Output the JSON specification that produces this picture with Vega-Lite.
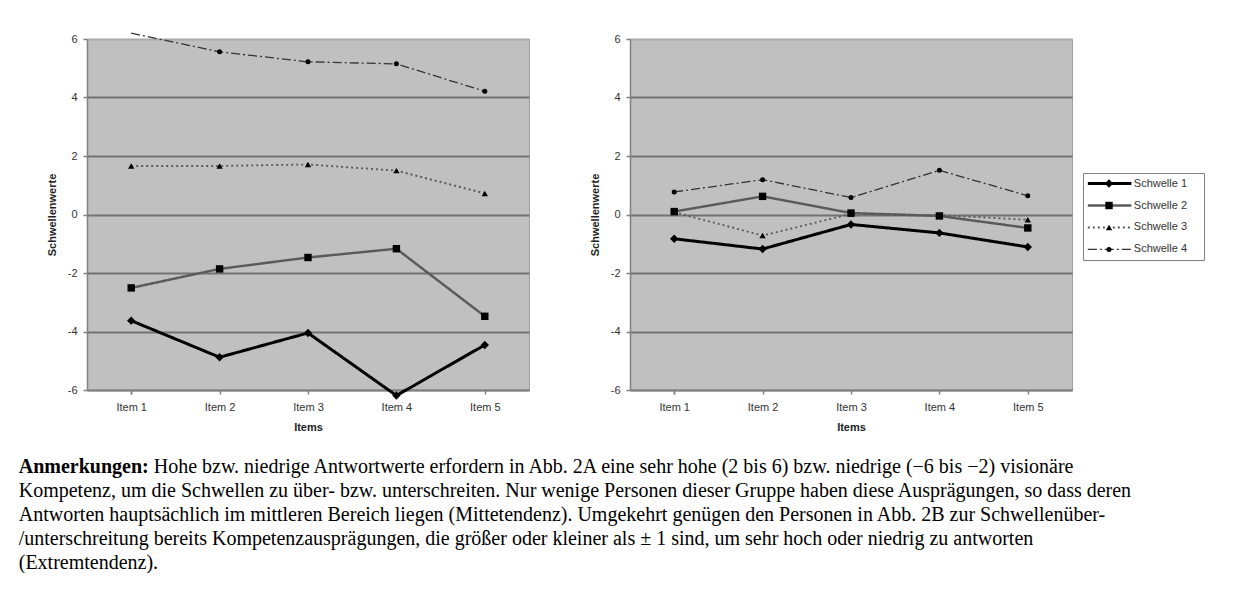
{
  "$schema": "https://vega.github.io/schema/vega-lite/v6.json",
  "background": "white",
  "padding": {"left": 18, "top": 30, "right": 0, "bottom": 0},
  "config": {
    "font": "Liberation Sans",
    "view": {"fill": "#c0c0c0", "stroke": "#a0a0a0", "strokeWidth": 1},
    "axis": {
      "labelFont": "Liberation Sans", "labelFontSize": 11, "labelColor": "#333333",
      "titleFont": "Liberation Sans", "titleFontSize": 11, "titleFontWeight": "bold", "titleColor": "#222222",
      "domainColor": "#808080", "domainWidth": 1.5, "tickColor": "#808080", "tickWidth": 1.5, "tickSize": 4
    },
    "axisX": {"labelAngle": 0, "grid": false, "tickBand": "extent", "labelPadding": 7, "titlePadding": 9},
    "axisY": {"gridColor": "#727272", "gridWidth": 2, "labelPadding": 6, "titlePadding": 10, "labelExpr": "replace(datum.label, '−', '-')"}
  },
  "title": {
    "text": "Anmerkungen:",
    "subtitle": [
      "\u200b\u00a0\u00a0\u00a0\u00a0\u00a0\u00a0\u00a0\u00a0\u00a0\u00a0\u00a0\u00a0\u00a0\u00a0\u00a0\u00a0\u00a0\u00a0\u00a0\u00a0\u00a0\u00a0\u00a0\u00a0\u00a0\u00a0\u00a0Hohe bzw. niedrige Antwortwerte erfordern in Abb. 2A eine sehr hohe (2 bis 6) bzw. niedrige (−6 bis −2) visionäre",
      "Kompetenz, um die Schwellen zu über- bzw. unterschreiten. Nur wenige Personen dieser Gruppe haben diese Ausprägungen, so dass deren",
      "Antworten hauptsächlich im mittleren Bereich liegen (Mittetendenz). Umgekehrt genügen den Personen in Abb. 2B zur Schwellenüber-",
      "/unterschreitung bereits Kompetenzausprägungen, die größer oder kleiner als ± 1 sind, um sehr hoch oder niedrig zu antworten",
      "(Extremtendenz)."
    ],
    "orient": "bottom",
    "anchor": "start",
    "frame": "bounds",
    "dx": -27,
    "offset": 24,
    "font": "Liberation Serif",
    "fontSize": 20,
    "fontWeight": "bold",
    "color": "#000000",
    "lineHeight": 24,
    "subtitleFont": "Liberation Serif",
    "subtitleFontSize": 20,
    "subtitleFontWeight": "normal",
    "subtitleColor": "#000000",
    "subtitleLineHeight": 24,
    "subtitlePadding": -20
  },
  "datasets": {
    "main": [
      {"panel": "A", "item": "Item 1", "series": "Schwelle 1", "value": -3.63},
      {"panel": "A", "item": "Item 2", "series": "Schwelle 1", "value": -4.88},
      {"panel": "A", "item": "Item 3", "series": "Schwelle 1", "value": -4.05},
      {"panel": "A", "item": "Item 4", "series": "Schwelle 1", "value": -6.19},
      {"panel": "A", "item": "Item 5", "series": "Schwelle 1", "value": -4.46},
      {"panel": "A", "item": "Item 1", "series": "Schwelle 2", "value": -2.51},
      {"panel": "A", "item": "Item 2", "series": "Schwelle 2", "value": -1.86},
      {"panel": "A", "item": "Item 3", "series": "Schwelle 2", "value": -1.47},
      {"panel": "A", "item": "Item 4", "series": "Schwelle 2", "value": -1.17},
      {"panel": "A", "item": "Item 5", "series": "Schwelle 2", "value": -3.48},
      {"panel": "A", "item": "Item 1", "series": "Schwelle 3", "value": 1.66},
      {"panel": "A", "item": "Item 2", "series": "Schwelle 3", "value": 1.66},
      {"panel": "A", "item": "Item 3", "series": "Schwelle 3", "value": 1.71},
      {"panel": "A", "item": "Item 4", "series": "Schwelle 3", "value": 1.5},
      {"panel": "A", "item": "Item 5", "series": "Schwelle 3", "value": 0.72},
      {"panel": "A", "item": "Item 1", "series": "Schwelle 4", "value": 6.2},
      {"panel": "A", "item": "Item 2", "series": "Schwelle 4", "value": 5.56},
      {"panel": "A", "item": "Item 3", "series": "Schwelle 4", "value": 5.22},
      {"panel": "A", "item": "Item 4", "series": "Schwelle 4", "value": 5.15},
      {"panel": "A", "item": "Item 5", "series": "Schwelle 4", "value": 4.21},
      {"panel": "B", "item": "Item 1", "series": "Schwelle 1", "value": -0.83},
      {"panel": "B", "item": "Item 2", "series": "Schwelle 1", "value": -1.18},
      {"panel": "B", "item": "Item 3", "series": "Schwelle 1", "value": -0.34},
      {"panel": "B", "item": "Item 4", "series": "Schwelle 1", "value": -0.63},
      {"panel": "B", "item": "Item 5", "series": "Schwelle 1", "value": -1.11},
      {"panel": "B", "item": "Item 1", "series": "Schwelle 2", "value": 0.1},
      {"panel": "B", "item": "Item 2", "series": "Schwelle 2", "value": 0.62},
      {"panel": "B", "item": "Item 3", "series": "Schwelle 2", "value": 0.05},
      {"panel": "B", "item": "Item 4", "series": "Schwelle 2", "value": -0.05},
      {"panel": "B", "item": "Item 5", "series": "Schwelle 2", "value": -0.46},
      {"panel": "B", "item": "Item 1", "series": "Schwelle 3", "value": 0.08},
      {"panel": "B", "item": "Item 2", "series": "Schwelle 3", "value": -0.72},
      {"panel": "B", "item": "Item 3", "series": "Schwelle 3", "value": 0.02},
      {"panel": "B", "item": "Item 4", "series": "Schwelle 3", "value": -0.02},
      {"panel": "B", "item": "Item 5", "series": "Schwelle 3", "value": -0.18},
      {"panel": "B", "item": "Item 1", "series": "Schwelle 4", "value": 0.77},
      {"panel": "B", "item": "Item 2", "series": "Schwelle 4", "value": 1.19},
      {"panel": "B", "item": "Item 3", "series": "Schwelle 4", "value": 0.58},
      {"panel": "B", "item": "Item 4", "series": "Schwelle 4", "value": 1.51},
      {"panel": "B", "item": "Item 5", "series": "Schwelle 4", "value": 0.64}
    ]
  },
  "hconcat": [
    {
      "width": 442, "height": 351,
      "data": {"name": "main"},
      "transform": [{"filter": "datum.panel == 'A'"}],
      "encoding": {
        "x": {"field": "item", "type": "ordinal", "scale": {"paddingInner": 0, "paddingOuter": 0}, "axis": {"title": "Items"}},
        "y": {"field": "value", "type": "quantitative", "scale": {"domain": [-6, 6], "nice": false, "zero": false}, "axis": {"values": [-6, -4, -2, 0, 2, 4, 6], "title": "Schwellenwerte", "gridColor": {"condition": {"test": "datum.value == 6", "value": "#a8a8a8"}, "value": "#727272"}}}
      },
      "layer": [
        {
          "mark": {"type": "line", "clip": false},
          "encoding": {
            "color": {"field": "series", "type": "nominal", "scale": {"domain": ["Schwelle 1", "Schwelle 2", "Schwelle 3", "Schwelle 4"], "range": ["#000000", "#5a5a5a", "#5a5a5a", "#333333"]}, "legend": null},
            "strokeDash": {"field": "series", "type": "nominal", "scale": {"domain": ["Schwelle 1", "Schwelle 2", "Schwelle 3", "Schwelle 4"], "range": [[1, 0], [1, 0], [2, 3], [9, 3, 2, 3]]}, "legend": null},
            "strokeWidth": {"field": "series", "type": "ordinal", "scale": {"domain": ["Schwelle 1", "Schwelle 2", "Schwelle 3", "Schwelle 4"], "range": [3, 1.3, 1.5, 1.5]}, "legend": null}
          }
        },
        {
          "transform": [{"filter": "datum.value <= 6"}],
          "mark": {"type": "point", "filled": true, "color": "#000000", "opacity": 1, "clip": false},
          "encoding": {
            "shape": {"field": "series", "type": "nominal", "scale": {"domain": ["Schwelle 1", "Schwelle 2", "Schwelle 3", "Schwelle 4"], "range": ["diamond", "square", "triangle-up", "circle"]}, "legend": null},
            "size": {"field": "series", "type": "ordinal", "scale": {"domain": ["Schwelle 1", "Schwelle 2", "Schwelle 3", "Schwelle 4"], "range": [70, 25, 45, 40]}, "legend": null}
          }
        }
      ]
    },
    {
      "hconcat": [
        {
          "width": 442, "height": 351,
          "data": {"name": "main"},
          "transform": [{"filter": "datum.panel == 'B'"}],
          "encoding": {
            "x": {"field": "item", "type": "ordinal", "scale": {"paddingInner": 0, "paddingOuter": 0}, "axis": {"title": "Items"}},
            "y": {"field": "value", "type": "quantitative", "scale": {"domain": [-6, 6], "nice": false, "zero": false}, "axis": {"values": [-6, -4, -2, 0, 2, 4, 6], "title": "Schwellenwerte", "gridColor": {"condition": {"test": "datum.value == 6", "value": "#a8a8a8"}, "value": "#727272"}}}
          },
          "layer": [
            {
              "mark": {"type": "line", "clip": false},
              "encoding": {
                "color": {"field": "series", "type": "nominal", "legend": null},
                "strokeDash": {"field": "series", "type": "nominal", "legend": null},
                "strokeWidth": {"field": "series", "type": "ordinal", "legend": null}
              }
            },
            {
              "mark": {"type": "point", "filled": true, "color": "#000000", "opacity": 1, "clip": false},
              "encoding": {
                "shape": {"field": "series", "type": "nominal", "legend": null},
                "size": {"field": "series", "type": "ordinal", "legend": null}
              }
            }
          ]
        },
        {
          "vconcat": [
            {
              "width": 121, "height": 122,
              "view": {"fill": null, "stroke": null},
              "data": {"values": [{"blank": ""}]},
              "mark": {"type": "text"},
              "encoding": {"text": {"field": "blank"}}
            },
            {
              "width": 121, "height": 87,
              "view": {"fill": "#ffffff", "stroke": "#808080", "strokeWidth": 1},
              "data": {"name": "main"},
              "transform": [{"filter": "datum.panel == 'A' && datum.item == 'Item 1'"}],
              "encoding": {
                "y": {"field": "series", "type": "nominal", "scale": {"type": "point", "padding": 0.48}, "axis": null}
              },
              "layer": [
                {
                  "mark": {"type": "rule"},
                  "encoding": {
                    "x": {"datum": 0.04, "type": "quantitative", "scale": {"domain": [0, 1]}, "axis": null},
                    "x2": {"datum": 0.4},
                    "color": {"field": "series", "type": "nominal", "legend": null},
                    "strokeDash": {"field": "series", "type": "nominal", "legend": null},
                    "strokeWidth": {"field": "series", "type": "ordinal", "legend": null}
                  }
                },
                {
                  "mark": {"type": "point", "filled": true, "color": "#000000", "opacity": 1},
                  "encoding": {
                    "x": {"datum": 0.215, "type": "quantitative"},
                    "shape": {"field": "series", "type": "nominal", "legend": null},
                    "size": {"field": "series", "type": "ordinal", "legend": null}
                  }
                },
                {
                  "mark": {"type": "text", "align": "left", "baseline": "middle", "fontSize": 11, "color": "#333333", "font": "Liberation Sans"},
                  "encoding": {
                    "x": {"datum": 0.42, "type": "quantitative"},
                    "text": {"field": "series"}
                  }
                }
              ]
            }
          ],
          "spacing": 11
        }
      ],
      "spacing": 9
    }
  ],
  "spacing": 58
}
